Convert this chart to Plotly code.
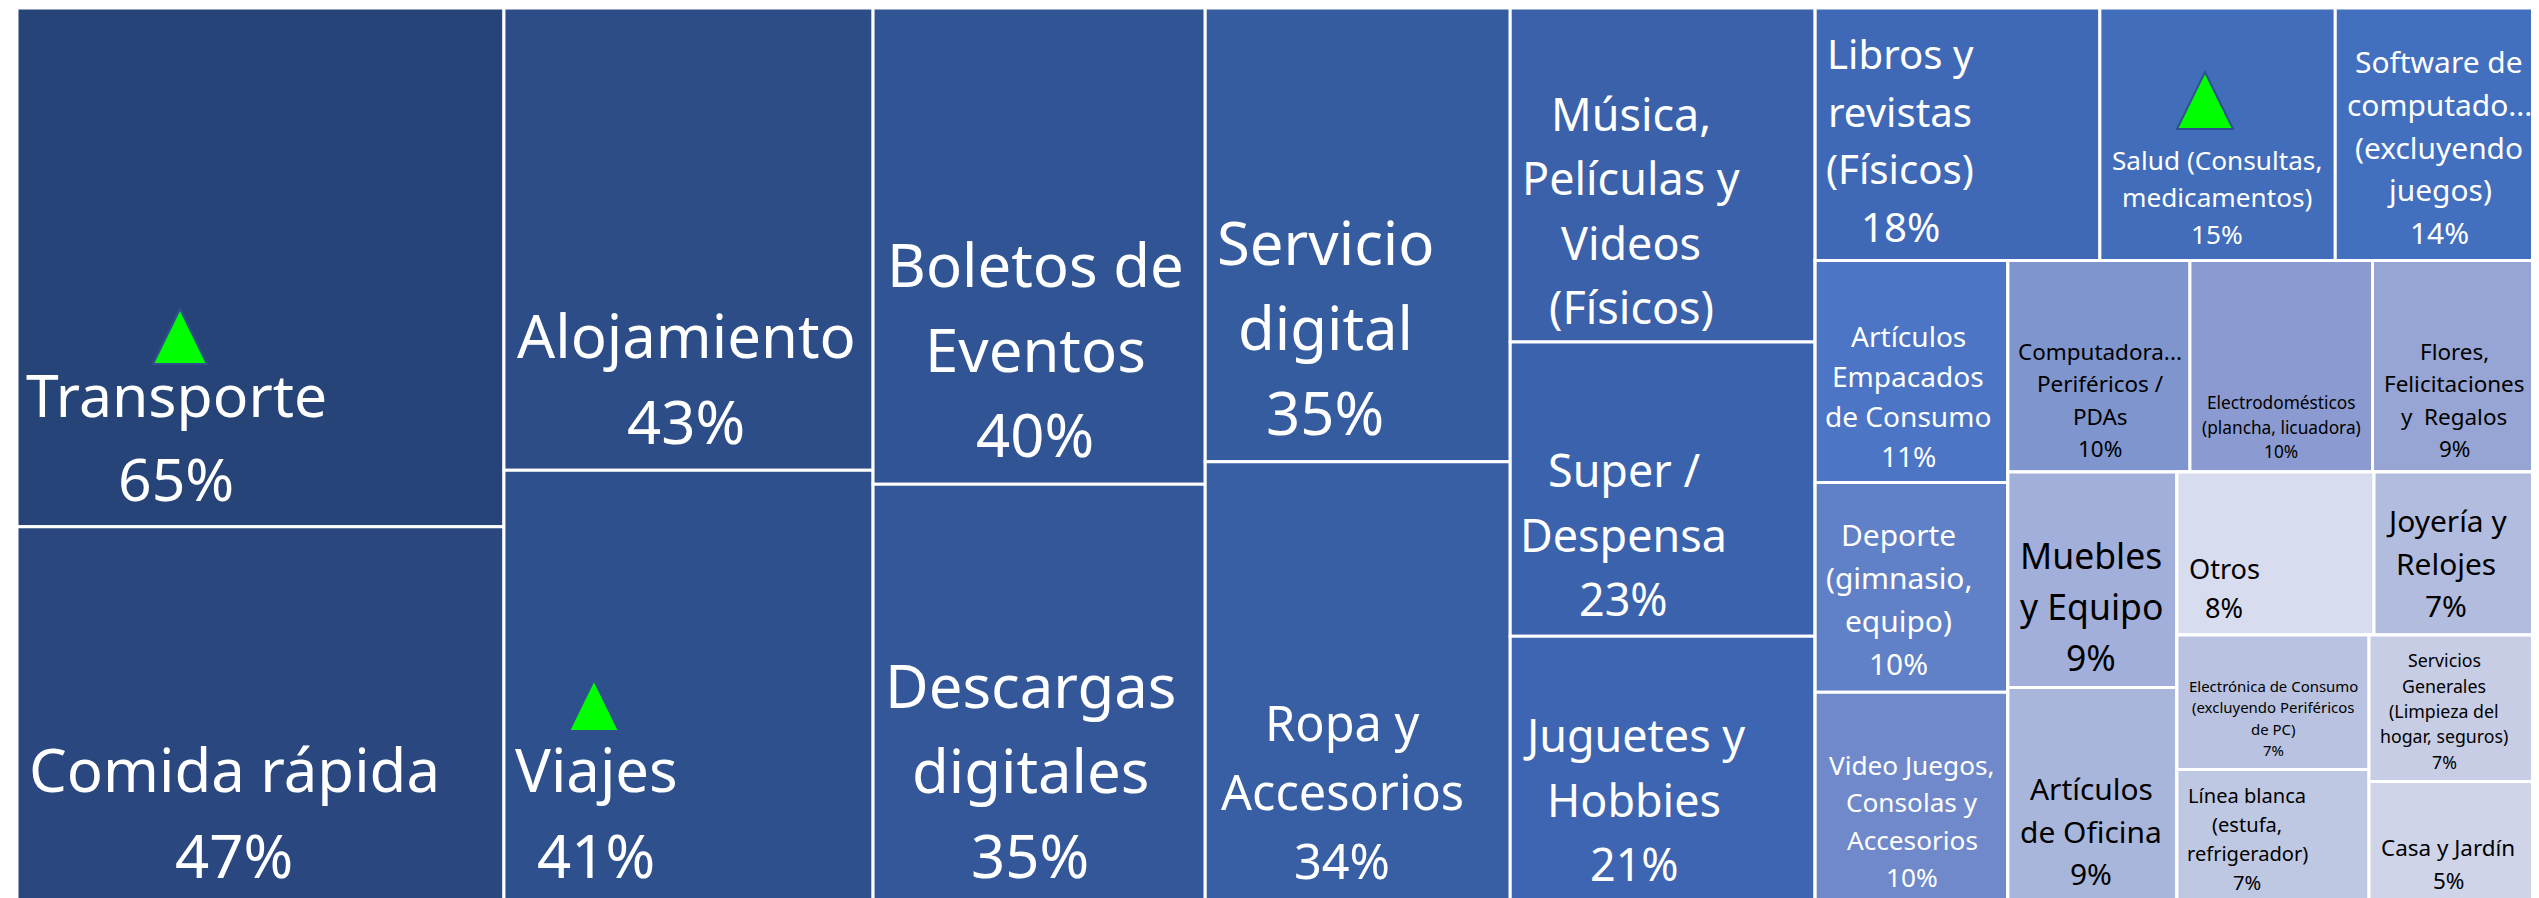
import plotly.graph_objects as go

BODY = 8  # the page's own margin round the plot
W, H = 2535, 894  # the cells run a little past the right and bottom edges of the picture

# Categories, nesting groups, values (percent) and colours
labels = ["root", "c1", "c2", "c3", "c4", "c5", "c6",
          "Transporte", "Comida rápida", "Alojamiento", "Viajes",
          "Boletos de Eventos", "Descargas digitales", "Servicio digital", "Ropa y Accesorios",
          "Música, Películas y Videos (Físicos)", "Super / Despensa", "Juguetes y Hobbies",
          "top", "low", "Libros y revistas (Físicos)", "Salud (Consultas, medicamentos)",
          "Software de computadora (excluyendo juegos)",
          "colA", "restB",
          "Artículos Empacados de Consumo", "Deporte (gimnasio, equipo)", "Video Juegos, Consolas y Accesorios",
          "rowF", "rowR",
          "Computadoras, Periféricos / PDAs", "Electrodomésticos (plancha, licuadora)", "Flores, Felicitaciones y Regalos",
          "colM", "restC",
          "Muebles y Equipo", "Artículos de Oficina",
          "rowO", "rowE",
          "Otros", "Joyería y Relojes",
          "colE", "colS",
          "Electrónica de Consumo (excluyendo Periféricos de PC)", "Línea blanca (estufa, refrigerador)",
          "Servicios Generales (Limpieza del hogar, seguros)", "Casa y Jardín"]
parents = ["", "root", "root", "root", "root", "root", "root",
           "c1", "c1", "c2", "c2",
           "c3", "c3", "c4", "c4",
           "c5", "c5", "c5",
           "c6", "c6", "top", "top",
           "top",
           "low", "low",
           "colA", "colA", "colA",
           "restB", "restB",
           "rowF", "rowF", "rowF",
           "rowR", "rowR",
           "colM", "colM",
           "restC", "restC",
           "rowO", "rowO",
           "rowE", "rowE",
           "colE", "colE",
           "colS", "colS"]
values = [0, 0, 0, 0, 0, 0, 0,
          65.0, 47.0, 43.9, 41.0,
          40.7, 35.7, 35.6, 34.55,
          26.2, 23.1, 20.85,
          0, 0, 18.5, 15.3,
          13.5,
          0, 0,
          11.0, 10.4, 10.4,
          0, 0,
          9.9, 9.93, 9.27,
          0, 0,
          9.37, 9.33,
          0, 0,
          8.27, 7.09,
          0, 0,
          6.64, 6.55,
          6.56, 5.39]
colors = ["#FFFFFF"] * 7 + [
    "#264478", "#2A487F", "#2C4D87", "#2E508D",
    "#315594", "#335799", "#365CA0", "#385FA4",
    "#3A61A9", "#3B63AD", "#3D65B2",
    "#FFFFFF", "#FFFFFF", "#3F69B7", "#416DBB",
    "#436FBF",
    "#FFFFFF", "#FFFFFF",
    "#4C75C5", "#6081C8", "#7089CB",
    "#FFFFFF", "#FFFFFF",
    "#7F95CE", "#8B9BD1", "#97A5D4",
    "#FFFFFF", "#FFFFFF",
    "#A2AFDA", "#A9B6DC",
    "#FFFFFF", "#FFFFFF",
    "#D7DCEE", "#B2BCDF",
    "#FFFFFF", "#FFFFFF",
    "#B9C3E1", "#BFC8E3",
    "#C8CDE6", "#CFD4E9"]

# Cell captions: lines, centre x, centre y of the block, nominal size, colour
caption_text = ["Transporte<br>65%", "Comida rápida<br>47%", "Alojamiento<br>43%", "Viajes<br>41%",
                "Boletos de<br>Eventos<br>40%", "Descargas<br>digitales<br>35%", "Servicio<br>digital<br>35%",
                "Ropa y<br>Accesorios<br>34%", "Música,<br>Películas y<br>Videos<br>(Físicos)",
                "Super /<br>Despensa<br>23%", "Juguetes y<br>Hobbies<br>21%",
                "Libros y<br>revistas<br>(Físicos)<br>18%", "Salud (Consultas,<br>medicamentos)<br>15%",
                "Software de<br>computado...<br>(excluyendo<br>juegos)<br>14%",
                "Artículos<br>Empacados<br>de Consumo<br>11%", "Computadora...<br>Periféricos /<br>PDAs<br>10%",
                "Electrodomésticos<br>(plancha, licuadora)<br>10%", "Flores,<br>Felicitaciones<br>y\u00a0 Regalos<br>9%",
                "Deporte<br>(gimnasio,<br>equipo)<br>10%", "Video Juegos,<br>Consolas y<br>Accesorios<br>10%",
                "Muebles<br>y Equipo<br>9%", "Artículos<br>de Oficina<br>9%", "Otros<br>8%", "Joyería y<br>Relojes<br>7%",
                "Electrónica de Consumo<br>(excluyendo Periféricos<br>de PC)<br>7%",
                "Servicios<br>Generales<br>(Limpieza del<br>hogar, seguros)<br>7%",
                "Línea blanca<br>(estufa,<br>refrigerador)<br>7%", "Casa y Jardín<br>5%"]
caption_x = [176, 234, 686, 596, 1035, 1030, 1325, 1342, 1631, 1624, 1634, 1900, 2217, 2439,
             1908, 2100, 2281, 2454, 1899, 1912, 2091, 2091, 2224, 2446, 2273, 2444, 2247, 2448]
caption_y = [436, 812, 378, 812, 349, 770, 327, 791, 210, 534, 799, 140, 197, 147,
             396, 400, 427, 400, 599, 821, 606, 831, 588, 563, 718, 711, 839, 864]
caption_size = [63, 64, 64, 64, 64, 64, 64, 52, 48, 48, 48, 43, 28, 32,
                30, 24, 18.5, 24, 32, 28, 38, 32, 29, 32, 16, 19, 21.5, 24]
caption_color = ["#FFFFFF"] * 15 + ["#000000", "#000000", "#000000"] + ["#FFFFFF"] * 2 + ["#000000"] * 8
WIDTH_RATIO = 0.935
LINE_RATIO = 1.335

# Green markers: apex x, apex y, half base, base y
tri_x = [180, 594, 2205]
tri_top = [309, 680, 72]
tri_half = [27, 25, 28]
tri_base = [364, 731, 129]


def px(x):
    return (x - BODY) / W


def py(y):
    return 1 - (y - BODY) / H


fig = go.Figure(go.Treemap(
    labels=labels, parents=parents, values=values,
    branchvalues="remainder", sort=False, textinfo="none",
    tiling=dict(packing="slice-dice", pad=0),
    marker=dict(colors=colors, line=dict(color="#FFFFFF", width=3),
                pad=dict(t=0, l=0, r=0, b=0), depthfade=False),
    pathbar=dict(visible=False),
    domain=dict(x=[px(17), 1], y=[0, 1]),
))

FONT = "Noto Sans"
for t, x, y, s, c in zip(caption_text, caption_x, caption_y, caption_size, caption_color):
    lines = t.split("<br>")
    pitch = s * LINE_RATIO
    for i, line in enumerate(lines):
        fig.add_annotation(text=line, x=px(x), y=py(y + (i - (len(lines) - 1) / 2) * pitch),
                           xref="paper", yref="paper",
                           xanchor="center", yanchor="middle", align="center", showarrow=False,
                           font=dict(family=FONT, size=s * WIDTH_RATIO, color=c))

for x, top, half, base in zip(tri_x, tri_top, tri_half, tri_base):
    fig.add_shape(type="path", xref="paper", yref="paper",
                  path=f"M {px(x - half)} {py(base)} L {px(x)} {py(top)} L {px(x + half)} {py(base)} Z",
                  fillcolor="#00FF00", line=dict(color="#2F528F", width=2))

fig.update_layout(width=W, height=H, margin=dict(l=0, r=0, t=0, b=0),
                  paper_bgcolor="#FFFFFF", showlegend=False)
fig.write_html("out.html")
